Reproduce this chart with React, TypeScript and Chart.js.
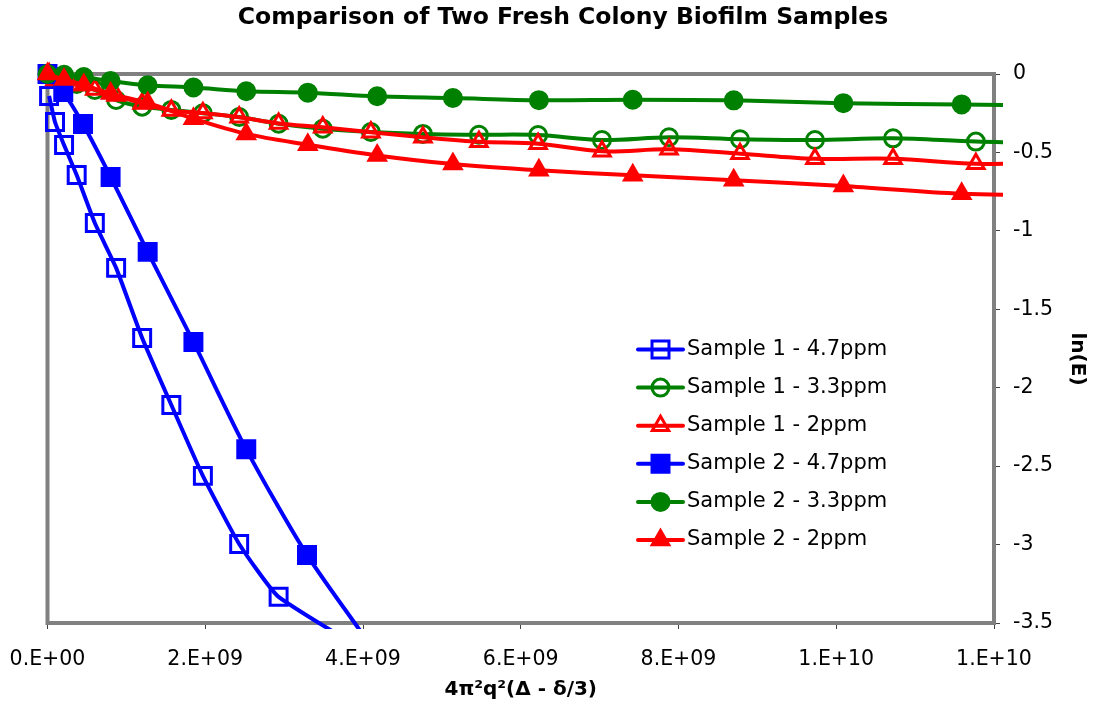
import React, { useEffect, useRef } from "react";
import { Chart, registerables } from "chart.js";

Chart.register(...registerables);

const chartTitle = "Comparison of Two Fresh Colony Biofilm Samples";
const xAxisTitle = "4π²q²(Δ - δ/3)";
const yAxisTitle = "ln(E)";

const xTickLabels = ["0.E+00", "2.E+09", "4.E+09", "6.E+09", "8.E+09", "1.E+10", "1.E+10"];
const yTickLabels = ["-3.5", "-3", "-2.5", "-2", "-1.5", "-1", "-0.5", "0"];

const seriesLabels = [
  "Sample 1 - 4.7ppm",
  "Sample 1 - 3.3ppm",
  "Sample 1 - 2ppm",
  "Sample 2 - 4.7ppm",
  "Sample 2 - 3.3ppm",
  "Sample 2 - 2ppm",
];

// x values in units of 1e9
const sample1X = [0.02, 0.095, 0.21, 0.37, 0.6, 0.87, 1.2, 1.57, 1.97, 2.43, 2.93, 3.49, 4.1, 4.76, 5.47, 6.22, 7.03, 7.88, 8.78, 9.73, 10.72, 11.77, 12.86];
const sample2X = [0, 0.21, 0.46, 0.8, 1.27, 1.85, 2.52, 3.3, 4.18, 5.14, 6.23, 7.42, 8.7, 10.09, 11.59, 13.2];
const s1Blue_X = [0.02, 0.095, 0.21, 0.37, 0.6, 0.87, 1.2, 1.57, 1.97, 2.43, 2.93, 4.76];
const s2Blue_X = [0, 0.2, 0.45, 0.8, 1.27, 1.85, 2.52, 3.29, 4.18];

const s1_47 = [-0.14, -0.306, -0.453, -0.644, -0.95, -1.236, -1.683, -2.11, -2.562, -2.996, -3.333, -3.9];
const s1_33 = [0, -0.019, -0.038, -0.064, -0.102, -0.166, -0.208, -0.229, -0.25, -0.274, -0.317, -0.349, -0.37, -0.382, -0.387, -0.389, -0.421, -0.403, -0.416, -0.421, -0.41, -0.431, -0.442];
const s1_2 = [0, -0.038, -0.051, -0.07, -0.099, -0.137, -0.188, -0.233, -0.249, -0.276, -0.315, -0.339, -0.371, -0.403, -0.432, -0.444, -0.493, -0.48, -0.508, -0.54, -0.54, -0.572, -0.567];
const s2_47 = [0, -0.115, -0.319, -0.656, -1.134, -1.708, -2.393, -3.066, -3.7];
const s2_33 = [0, -0.005, -0.019, -0.045, -0.072, -0.086, -0.11, -0.119, -0.142, -0.153, -0.167, -0.164, -0.168, -0.186, -0.194, -0.204];
const s2_2 = [0, -0.035, -0.07, -0.125, -0.185, -0.285, -0.382, -0.451, -0.519, -0.574, -0.614, -0.646, -0.677, -0.714, -0.763, -0.775];

const BLUE = "#0000FF";
const GREEN = "#008000";
const RED = "#FF0000";
const CLEAR = "rgba(0,0,0,0)";
const FONT = "'DejaVu Sans', sans-serif";

const toPoints = (xs: number[], ys: number[]) => ys.map((y, i) => ({ x: xs[i] * 1e9, y }));

type Spec = { label: string; xs: number[]; ys: number[]; color: string; style: string; filled: boolean; r: number; t: number };
const specs: Spec[] = [
  { label: seriesLabels[0], xs: s1Blue_X, ys: s1_47, color: BLUE, style: "rect", filled: false, r: 12, t: 0.15 },
  { label: seriesLabels[1], xs: sample1X, ys: s1_33, color: GREEN, style: "circle", filled: false, r: 8.5, t: 0.33 },
  { label: seriesLabels[2], xs: sample1X, ys: s1_2, color: RED, style: "triangle", filled: false, r: 9.5, t: 0.33 },
  { label: seriesLabels[3], xs: s2Blue_X, ys: s2_47, color: BLUE, style: "rect", filled: true, r: 12, t: 0.25 },
  { label: seriesLabels[4], xs: sample2X, ys: s2_33, color: GREEN, style: "circle", filled: true, r: 8.5, t: 0.33 },
  { label: seriesLabels[5], xs: sample2X, ys: s2_2, color: RED, style: "triangle", filled: true, r: 9.5, t: 0.33 },
];

function drawMarker(ctx: CanvasRenderingContext2D, style: string, x: number, y: number, r: number, fill: string, stroke: string, bw: number) {
  ctx.beginPath();
  if (style === "rect") {
    const s = r * Math.SQRT1_2;
    ctx.rect(x - s, y - s, 2 * s, 2 * s);
  } else if (style === "circle") {
    ctx.arc(x, y, r, 0, Math.PI * 2);
  } else {
    let rad = 0;
    ctx.moveTo(x + Math.sin(rad) * r, y - Math.cos(rad) * r);
    rad += (2 * Math.PI) / 3;
    ctx.lineTo(x + Math.sin(rad) * r, y - Math.cos(rad) * r);
    rad += (2 * Math.PI) / 3;
    ctx.lineTo(x + Math.sin(rad) * r, y - Math.cos(rad) * r);
    ctx.closePath();
  }
  ctx.fillStyle = fill;
  ctx.fill();
  ctx.lineWidth = bw;
  ctx.strokeStyle = stroke;
  ctx.stroke();
}

const decorPlugin = {
  id: "decor",
  beforeDatasetsDraw(chart: any) {
    const { ctx, chartArea: a } = chart;
    ctx.save();
    ctx.strokeStyle = "#808080";
    ctx.lineWidth = 4;
    ctx.strokeRect(a.left, a.top, a.right - a.left, a.bottom - a.top);
    ctx.restore();
  },
  afterDraw(chart: any) {
    const ctx: CanvasRenderingContext2D = chart.ctx;
    ctx.save();
    ctx.fillStyle = "#000";
    ctx.textAlign = "center";
    ctx.textBaseline = "middle";
    ctx.font = `bold 23.5px ${FONT}`;
    ctx.fillText(chartTitle, 563, 18);
    ctx.save();
    ctx.translate(1077, 359);
    ctx.rotate(Math.PI / 2);
    ctx.font = `bold 20px ${FONT}`;
    ctx.fillText(yAxisTitle, 0, 0);
    ctx.restore();
    const x0 = 638, x1 = 683, xm = 660.5, tx = 687;
    specs.forEach((s, i) => {
      const y = 349.5 + i * 38.1;
      ctx.beginPath();
      ctx.moveTo(x0, y);
      ctx.lineTo(x1, y);
      ctx.strokeStyle = s.color;
      ctx.lineWidth = 4;
      ctx.lineCap = "round";
      ctx.stroke();
      ctx.lineCap = "butt";
      drawMarker(ctx, s.style, xm, y, s.r, s.filled ? s.color : CLEAR, s.color, 3);
      ctx.fillStyle = "#000";
      ctx.textAlign = "left";
      ctx.textBaseline = "middle";
      ctx.font = `21px ${FONT}`;
      ctx.fillText(s.label, tx, y);
    });
    ctx.restore();
  },
};

export default function App() {
  const ref = useRef<HTMLCanvasElement>(null);
  useEffect(() => {
    Chart.defaults.font.family = FONT;
    Chart.defaults.color = "#000";
    const datasets = specs.map((s, i) => ({
      label: s.label,
      data: toPoints(s.xs, s.ys),
      borderColor: s.color,
      backgroundColor: s.filled ? s.color : CLEAR,
      borderWidth: 4,
      pointStyle: s.style,
      pointRadius: s.r,
      pointHoverRadius: s.r,
      pointBorderWidth: 3,
      pointBorderColor: s.color,
      pointBackgroundColor: s.filled ? s.color : CLEAR,
      tension: s.t,
      fill: false,
      order: 5 - i,
      clip: { left: 15, top: 15, right: 9, bottom: 6 },
    }));
    const chart = new Chart(ref.current as HTMLCanvasElement, {
      type: "line",
      data: { datasets },
      options: {
        animation: false,
        responsive: false,
        maintainAspectRatio: false,
        events: [],
        layout: { padding: { top: 74, left: 47.5, right: 0, bottom: 0 } },
        elements: { line: { capBezierPoints: false } },
        plugins: {
          legend: { display: false },
          tooltip: { enabled: false },
          title: { display: false },
        },
        scales: {
          x: {
            type: "linear",
            position: "bottom",
            min: 0,
            max: 1.2e10,
            afterFit: (scale: any) => {
              scale.height = 84;
              scale.paddingLeft = 0;
              scale.paddingRight = 0;
            },
            ticks: {
              stepSize: 2e9,
              autoSkip: false,
              maxRotation: 0,
              minRotation: 0,
              padding: 18.5,
              color: "#000",
              font: { family: FONT, size: 20.5 },
              callback: (_v: any, i: number) => xTickLabels[i] ?? "",
            },
            grid: { display: true, drawOnChartArea: false, drawTicks: true, tickLength: 6, color: "#404040", lineWidth: 1 },
            border: { display: false },
            title: {
              display: true,
              text: xAxisTitle,
              color: "#000",
              font: { family: FONT, size: 20, weight: "bold" },
              padding: { top: 0, bottom: 5 },
            },
          },
          y: {
            type: "linear",
            position: "right",
            min: -3.5,
            max: 0,
            afterFit: (scale: any) => {
              scale.width = 101;
              scale.paddingTop = 0;
              scale.paddingBottom = 0;
            },
            ticks: {
              stepSize: 0.5,
              padding: 13,
              color: "#000",
              font: { family: FONT, size: 20.5 },
              callback: (_v: any, i: number) => yTickLabels[i] ?? "",
            },
            grid: { display: true, drawOnChartArea: false, drawTicks: true, tickLength: 6, color: "#404040", lineWidth: 1 },
            border: { display: false },
          },
        },
      } as any,
      plugins: [decorPlugin],
    } as any);
    return () => chart.destroy();
  }, []);
  return (
    <div style={{ position: "absolute", left: 0, top: 0, width: 1095, height: 707, background: "#fff" }}>
      <canvas ref={ref} width={1095} height={707} style={{ display: "block" }} />
    </div>
  );
}
